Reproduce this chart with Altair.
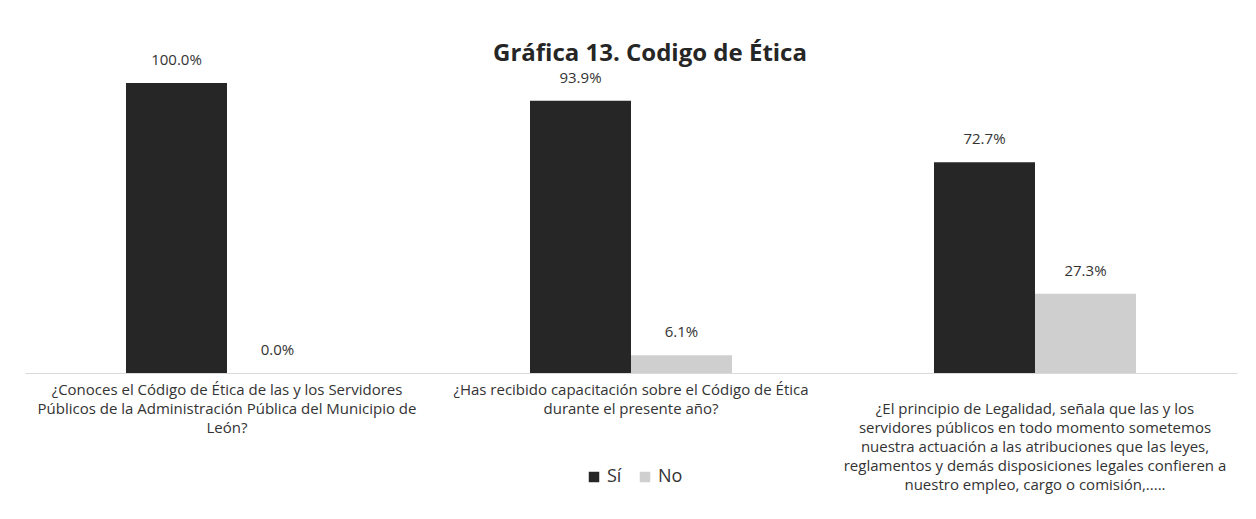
import altair as alt
import pandas as pd

questions = [
    "¿Conoces el Código de Ética de las y los Servidores|Públicos de la Administración Pública del Municipio de|León?",
    "¿Has recibido capacitación sobre el Código de Ética|durante el presente año?",
    " |¿El principio de Legalidad, señala que las y los|servidores públicos en todo momento sometemos|nuestra actuación a las atribuciones que las leyes,|reglamentos y demás disposiciones legales confieren a|nuestro empleo, cargo o comisión,.....",
]
series = ["Sí", "No"]
si_values = [1.0, 0.939, 0.727]
no_values = [0.0, 0.061, 0.273]
colors = ["#262626", "#cfcfcf"]

rows = []
for q, s, n in zip(questions, si_values, no_values):
    rows.append({"pregunta": q, "respuesta": "Sí", "valor": s})
    rows.append({"pregunta": q, "respuesta": "No", "valor": n})
df = pd.DataFrame(rows)

FONT = "Open Sans"

x = alt.X(
    "pregunta:N",
    sort=questions,
    title=None,
    scale=alt.Scale(paddingInner=0, paddingOuter=0),
    axis=alt.Axis(
        labelExpr="split(datum.label, '|')",
        labelAngle=0,
        labelLimit=500,
        labelFont=FONT,
        labelFontSize=15,
        labelColor="#333333",
        labelPadding=9,
        labelLineHeight=19,
        labelBaseline="top",
        ticks=False,
        domain=True,
        domainColor="#d9d9d9",
    ),
)
xo = alt.XOffset(
    "respuesta:N",
    sort=series,
    scale=alt.Scale(paddingInner=0, paddingOuter=1),
)
y = alt.Y("valor:Q", scale=alt.Scale(domain=[0, 1.1]), axis=None)

base = alt.Chart(df)

bars = base.mark_bar().encode(
    x=x,
    xOffset=xo,
    y=y,
    color=alt.Color(
        "respuesta:N",
        sort=series,
        scale=alt.Scale(domain=series, range=colors),
        legend=alt.Legend(
            title=None,
            orient="none",
            legendX=560,
            legendY=414,
            direction="horizontal",
            symbolType="square",
            symbolSize=110,
            symbolStrokeWidth=0,
            labelFont=FONT,
            labelFontSize=18,
            labelColor="#333333",
            columnPadding=14,
        ),
    ),
)

labels = base.mark_text(
    font=FONT, fontSize=15, color="#333333", baseline="middle", dy=-23
).encode(
    x=x,
    xOffset=xo,
    y=y,
    text=alt.Text("valor:Q", format=".1%"),
)

chart = (
    alt.layer(bars, labels)
    .properties(
        width=1212,
        height=319,
        padding={"left": 17, "top": 46, "right": 11, "bottom": 138},
        autosize=alt.AutoSizeParams(type="none"),
        title=alt.TitleParams(
            "Gráfica 13. Codigo de Ética",
            font=FONT,
            fontSize=24,
            fontWeight="bold",
            color="#262626",
            anchor="middle",
            frame="group",
            offset=-13,
            dx=19,
        ),
    )
    .configure_view(stroke=None)
)

chart.save("out.html", embed_options={"renderer": "svg", "actions": False})
